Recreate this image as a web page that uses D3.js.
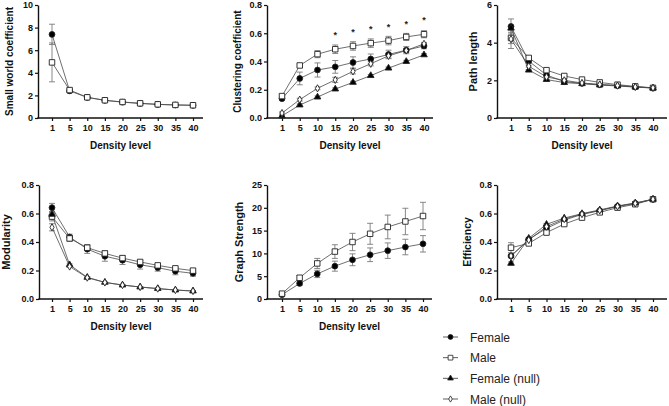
<!DOCTYPE html>
<html><head><meta charset="utf-8">
<script src="https://cdn.jsdelivr.net/npm/d3@7"></script>
<style>
body{margin:0;background:#fff;}
svg{display:block;}
.tk text{font-family:"Liberation Sans Narrow","Arial Narrow","Liberation Sans",Arial,sans-serif;font-weight:bold;font-size:9px;fill:#111;}
.lab{font-family:"Liberation Sans Narrow","Arial Narrow","Liberation Sans",Arial,sans-serif;font-weight:bold;fill:#111;}
.leg{font-family:"Liberation Sans",Arial,sans-serif;font-size:12px;fill:#222;}
</style></head><body>
<svg id="chart" width="669" height="406"></svg>
<script>
// ---------- data ----------
const densityLevels = ["1","5","10","15","20","25","30","35","40"];
const seriesNames = ["Female","Male","Female (null)","Male (null)"];

// Small world coefficient
const swFemale    = [7.40, 2.40, 1.82, 1.56, 1.40, 1.29, 1.20, 1.15, 1.12];
const swFemaleErr = [0.90, 0.10, 0.05, 0.04, 0.03, 0.03, 0.02, 0.02, 0.02];
const swMale      = [4.92, 2.47, 1.83, 1.57, 1.42, 1.30, 1.21, 1.16, 1.13];
const swMaleErr   = [1.72, 0.12, 0.06, 0.04, 0.03, 0.03, 0.02, 0.02, 0.02];
const swTicks = [0, 2, 4, 6, 8, 10];

// Clustering coefficient
const ccFemale        = [0.137, 0.280, 0.340, 0.362, 0.393, 0.418, 0.450, 0.480, 0.510];
const ccFemaleErr     = [0.010, 0.045, 0.050, 0.045, 0.040, 0.035, 0.030, 0.025, 0.020];
const ccMale          = [0.155, 0.372, 0.452, 0.487, 0.510, 0.530, 0.548, 0.574, 0.593];
const ccMaleErr       = [0.010, 0.010, 0.025, 0.030, 0.030, 0.030, 0.030, 0.025, 0.025];
const ccFemaleNull    = [0.015, 0.092, 0.148, 0.205, 0.252, 0.300, 0.353, 0.400, 0.447];
const ccFemaleNullErr = [0.005, 0.008, 0.008, 0.008, 0.008, 0.008, 0.008, 0.008, 0.008];
const ccMaleNull      = [0.035, 0.130, 0.210, 0.270, 0.330, 0.384, 0.440, 0.478, 0.525];
const ccMaleNullErr   = [0.008, 0.010, 0.010, 0.018, 0.018, 0.015, 0.015, 0.015, 0.010];
const ccStars = [null, null, null, 0.595, 0.616, 0.637, 0.651, 0.673, 0.700];
const ccTicks = [0, 0.2, 0.4, 0.6, 0.8];

// Path length
const plFemale        = [4.86, 3.02, 2.28, 1.93, 1.84, 1.77, 1.72, 1.65, 1.60];
const plFemaleErr     = [0.40, 0.08, 0.05, 0.03, 0.03, 0.02, 0.02, 0.02, 0.02];
const plMale          = [4.25, 3.19, 2.54, 2.23, 2.04, 1.89, 1.77, 1.68, 1.60];
const plMaleErr       = [0.30, 0.08, 0.05, 0.04, 0.03, 0.02, 0.02, 0.02, 0.02];
const plFemaleNull    = [4.77, 2.54, 2.04, 1.88, 1.82, 1.75, 1.70, 1.64, 1.59];
const plFemaleNullErr = [0.10, 0.03, 0.02, 0.02, 0.02, 0.02, 0.02, 0.02, 0.02];
const plMaleNull      = [4.19, 2.75, 2.18, 2.00, 1.86, 1.78, 1.72, 1.65, 1.60];
const plMaleNullErr   = [0.50, 0.05, 0.03, 0.02, 0.02, 0.02, 0.02, 0.02, 0.02];
const plTicks = [0, 2, 4, 6];

// Modularity
const modFemale        = [0.641, 0.435, 0.350, 0.300, 0.272, 0.240, 0.220, 0.195, 0.180];
const modFemaleErr     = [0.030, 0.020, 0.030, 0.035, 0.030, 0.030, 0.025, 0.025, 0.020];
const modMale          = [0.578, 0.425, 0.360, 0.320, 0.287, 0.260, 0.236, 0.215, 0.199];
const modMaleErr       = [0.030, 0.020, 0.020, 0.015, 0.015, 0.012, 0.010, 0.010, 0.010];
const modFemaleNull    = [0.594, 0.240, 0.152, 0.117, 0.098, 0.084, 0.073, 0.063, 0.056];
const modFemaleNullErr = [0.020, 0.006, 0.004, 0.003, 0.003, 0.003, 0.003, 0.003, 0.003];
const modMaleNull      = [0.503, 0.228, 0.150, 0.116, 0.098, 0.084, 0.073, 0.063, 0.056];
const modMaleNullErr   = [0.025, 0.006, 0.004, 0.003, 0.003, 0.003, 0.003, 0.003, 0.003];
const modTicks = [0, 0.2, 0.4, 0.6, 0.8];

// Graph strength
const gsFemale    = [0.95, 3.40, 5.50, 7.20, 8.60, 9.70, 10.60, 11.40, 12.10];
const gsFemaleErr = [0.20, 0.40, 0.80, 1.10, 1.30, 1.50, 1.70, 1.70, 1.80];
const gsMale      = [1.17, 4.66, 7.80, 10.40, 12.50, 14.30, 15.80, 17.00, 18.20];
const gsMaleErr   = [0.20, 0.50, 1.10, 1.50, 1.90, 2.30, 2.60, 2.90, 3.00];
const gsTicks = [0, 5, 10, 15, 20, 25];

// Efficiency
const efFemale        = [0.302, 0.419, 0.496, 0.554, 0.594, 0.620, 0.650, 0.671, 0.700];
const efFemaleErr     = [0.012, 0.008, 0.010, 0.008, 0.006, 0.005, 0.005, 0.004, 0.004];
const efMale          = [0.360, 0.390, 0.466, 0.526, 0.571, 0.608, 0.641, 0.665, 0.700];
const efMaleErr       = [0.035, 0.010, 0.010, 0.008, 0.006, 0.005, 0.005, 0.004, 0.004];
const efFemaleNull    = [0.250, 0.426, 0.524, 0.568, 0.599, 0.625, 0.653, 0.674, 0.700];
const efFemaleNullErr = [0.010, 0.005, 0.005, 0.004, 0.003, 0.003, 0.003, 0.003, 0.003];
const efMaleNull      = [0.302, 0.414, 0.508, 0.561, 0.596, 0.622, 0.650, 0.671, 0.700];
const efMaleNullErr   = [0.010, 0.005, 0.005, 0.004, 0.003, 0.003, 0.003, 0.003, 0.003];
const efTicks = [0, 0.2, 0.4, 0.6, 0.8];

// ---------- styles ----------
const styles = {
  "Female":        {symbol: d3.symbolCircle,   size: 26, fill: "#000"},
  "Male":          {symbol: d3.symbolSquare,   size: 30, fill: "#fff"},
  "Female (null)": {symbol: d3.symbolTriangle, size: 19, fill: "#000"},
  "Male (null)":   {symbol: d3.symbolDiamond,  size: 15, fill: "#fff"}
};

const panels = [
  {label:"Small world coefficient", labelSize:10, labelX:9, ax:38, pl:52, pr:193, xr:203, top:5, bottom:118,
   domain:[0,10], ticks:swTicks, fmt:d3.format("d"), xlabel:true,
   series:[["Female",swFemale,swFemaleErr],["Male",swMale,swMaleErr]]},
  {label:"Clustering coefficient", labelSize:10, labelX:237, ax:267, pl:282, pr:424, xr:433, top:5, bottom:118,
   domain:[0,0.8], ticks:ccTicks, fmt:d3.format(".1f"), xlabel:true, stars:ccStars,
   series:[["Female",ccFemale,ccFemaleErr],["Male",ccMale,ccMaleErr],["Female (null)",ccFemaleNull,ccFemaleNullErr],["Male (null)",ccMaleNull,ccMaleNullErr]]},
  {label:"Path length", labelSize:11, labelX:473, ax:497, pl:511, pr:653, xr:667, top:5, bottom:118,
   domain:[0,6], ticks:plTicks, fmt:d3.format("d"), xlabel:true,
   series:[["Female",plFemale,plFemaleErr],["Male",plMale,plMaleErr],["Female (null)",plFemaleNull,plFemaleNullErr],["Male (null)",plMaleNull,plMaleNullErr]]},
  {label:"Modularity", labelSize:11, labelX:6, ax:39, pl:52, pr:193, xr:203, top:185, bottom:299,
   domain:[0,0.8], ticks:modTicks, fmt:d3.format(".1f"), xlabel:true,
   series:[["Female",modFemale,modFemaleErr],["Male",modMale,modMaleErr],["Female (null)",modFemaleNull,modFemaleNullErr],["Male (null)",modMaleNull,modMaleNullErr]]},
  {label:"Graph Strength", labelSize:11, labelX:239, ax:267, pl:282, pr:423, xr:432, top:185, bottom:299,
   domain:[0,25], ticks:gsTicks, fmt:d3.format("d"), xlabel:true,
   series:[["Female",gsFemale,gsFemaleErr],["Male",gsMale,gsMaleErr]]},
  {label:"Efficiency", labelSize:10.5, labelX:467, ax:497, pl:511, pr:653, xr:667, top:185, bottom:299,
   domain:[0,0.8], ticks:efTicks, fmt:d3.format(".1f"), xlabel:false,
   series:[["Female",efFemale,efFemaleErr],["Male",efMale,efMaleErr],["Female (null)",efFemaleNull,efFemaleNullErr],["Male (null)",efMaleNull,efMaleNullErr]]}
];

const svg = d3.select("#chart");
const lineCol = "#4a4a4a", errCol = "#7a7a7a";

panels.forEach(p => {
  const g = svg.append("g");
  const x = d3.scalePoint().domain(densityLevels).range([p.pl, p.pr]);
  const y = d3.scaleLinear().domain(p.domain).range([p.bottom, p.top]);

  // y axis
  const ya = g.append("g").attr("class","tk").attr("transform",`translate(${p.ax},0)`)
    .call(d3.axisLeft(y).tickValues(p.ticks).tickFormat(p.fmt).tickSize(3).tickSizeOuter(0).tickPadding(2));
  ya.select(".domain").attr("stroke","#111").attr("stroke-width",1.4);
  ya.selectAll(".tick line").attr("stroke","#111").attr("stroke-width",1.2);

  // x axis
  const xa = g.append("g").attr("class","tk").attr("transform",`translate(0,${p.bottom})`)
    .call(d3.axisBottom(x).tickSize(3).tickSizeOuter(0).tickPadding(4));
  xa.select(".domain").remove();
  xa.selectAll(".tick line").attr("stroke","#111").attr("stroke-width",1.2);
  g.append("line").attr("x1",p.ax-0.7).attr("x2",p.xr).attr("y1",p.bottom).attr("y2",p.bottom)
    .attr("stroke","#111").attr("stroke-width",1.4);

  // labels
  g.append("text").attr("class","lab").attr("font-size",p.labelSize+"px")
    .attr("text-anchor","middle")
    .attr("transform",`translate(${p.labelX},${(p.top+p.bottom)/2}) rotate(-90)`)
    .attr("dominant-baseline","central")
    .text(p.label);
  if (p.xlabel) {
    g.append("text").attr("class","lab").attr("font-size","10px").attr("text-anchor","middle")
      .attr("x",(p.ax+p.xr)/2).attr("y",p.bottom+31).text("Density level");
  }

  // error bars
  p.series.forEach(([name, vals, errs]) => {
    const eg = g.append("g").attr("stroke",errCol).attr("stroke-width",0.9);
    vals.forEach((v,i) => {
      const cx = x(densityLevels[i]);
      const y1 = y(v+errs[i]), y2 = y(v-errs[i]);
      eg.append("line").attr("x1",cx).attr("x2",cx).attr("y1",y1).attr("y2",y2);
      eg.append("line").attr("x1",cx-3).attr("x2",cx+3).attr("y1",y1).attr("y2",y1);
      eg.append("line").attr("x1",cx-3).attr("x2",cx+3).attr("y1",y2).attr("y2",y2);
    });
  });
  // lines
  p.series.forEach(([name, vals]) => {
    g.append("path").datum(vals)
      .attr("fill","none").attr("stroke",lineCol).attr("stroke-width",0.8)
      .attr("d", d3.line().x((d,i)=>x(densityLevels[i])).y(d=>y(d)));
  });
  // markers
  p.series.forEach(([name, vals]) => {
    const st = styles[name];
    g.append("g").selectAll("path").data(vals).join("path")
      .attr("transform",(d,i)=>`translate(${x(densityLevels[i])},${y(d)})`)
      .attr("d", d3.symbol().type(st.symbol).size(st.size))
      .attr("fill", st.fill).attr("stroke","#222").attr("stroke-width",0.9);
  });
  // significance stars
  if (p.stars) {
    g.append("g").selectAll("text").data(p.stars.map((s,i)=>[s,i]).filter(d=>d[0]!==null)).join("text")
      .attr("font-family","Liberation Sans, Arial, sans-serif").attr("font-size","9px").attr("font-weight","bold").attr("fill","#222")
      .attr("text-anchor","middle")
      .attr("x",d=>x(densityLevels[d[1]])).attr("y",d=>y(d[0])+4).text("*");
  }
});

// legend
const legY = d3.scalePoint().domain(seriesNames).range([337, 399]);
const lg = svg.append("g");
seriesNames.forEach(n => {
  const yy = legY(n);
  lg.append("line").attr("x1",443).attr("x2",458).attr("y1",yy).attr("y2",yy).attr("stroke",lineCol).attr("stroke-width",0.9);
  lg.append("path").attr("transform",`translate(450.5,${yy})`)
    .attr("d", d3.symbol().type(styles[n].symbol).size(styles[n].size*0.75))
    .attr("fill",styles[n].fill).attr("stroke","#222").attr("stroke-width",0.8);
  lg.append("text").attr("class","leg").attr("x",470).attr("y",yy+4.5).text(n);
});
</script>
</body></html>
